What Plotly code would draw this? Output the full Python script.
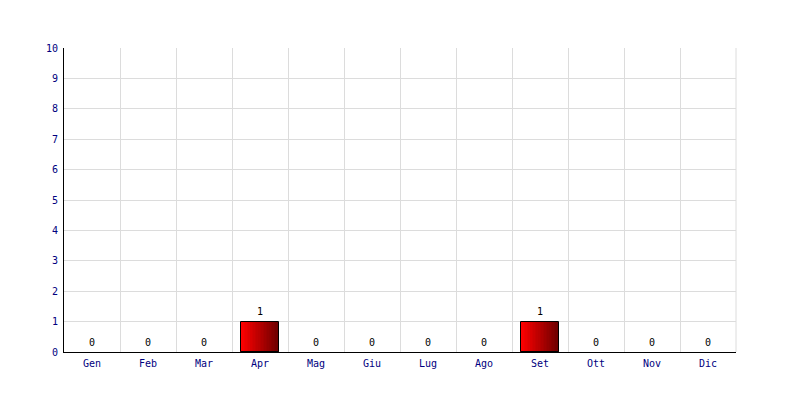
import plotly.graph_objects as go

months = ["Gen", "Feb", "Mar", "Apr", "Mag", "Giu", "Lug", "Ago", "Set", "Ott", "Nov", "Dic"]
values = [0, 0, 0, 1, 0, 0, 0, 0, 1, 0, 0, 0]

BAR_W = 0.68
N = 24
c0 = (255, 0, 0)
c1 = (110, 0, 0)

fig = go.Figure()
w = BAR_W / N
for i in range(N):
    t = i / (N - 1)
    col = tuple(round(a + (b - a) * t) for a, b in zip(c0, c1))
    fig.add_trace(go.Bar(
        x=months, y=values, width=w * 1.15, offset=-BAR_W / 2 + i * w,
        marker=dict(color="rgb(%d,%d,%d)" % col, line=dict(width=0)),
        showlegend=False, hoverinfo="skip"))

fig.add_trace(go.Bar(
    x=months, y=values, width=BAR_W, offset=-BAR_W / 2,
    marker=dict(color="rgba(0,0,0,0)",
                line=dict(color="black", width=[1 if v > 0 else 0 for v in values])),
    showlegend=False))

for m, v in zip(months, values):
    fig.add_annotation(x=m, y=v, text=str(v), showarrow=False, yanchor="middle",
                       yshift=10, font=dict(family="DejaVu Sans Mono", size=10, color="black"))

fig.update_layout(
    width=784, height=384,
    margin=dict(l=56, r=56, t=40, b=40),
    paper_bgcolor="white", plot_bgcolor="white",
    barmode="overlay", bargap=0,
    font=dict(family="DejaVu Sans Mono", size=10, color="#000080"),
)
fig.update_xaxes(
    type="category", tickson="boundaries", showgrid=True, gridcolor="#dcdcdc",
    gridwidth=1, showline=True, linecolor="black", linewidth=1, ticks="",
    range=[-0.5, 11.5], tickfont=dict(color="#000080", size=10), zeroline=False,
    ticklabelstandoff=2,
)
fig.update_yaxes(
    range=[0, 10], dtick=1, showgrid=True, gridcolor="#dcdcdc", gridwidth=1,
    showline=True, linecolor="black", linewidth=1, ticks="", zeroline=False,
    tickfont=dict(color="#000080", size=10), ticklabelstandoff=3,
)
fig.add_shape(type="line", xref="paper", yref="paper", x0=1, x1=1, y0=0, y1=1,
              line=dict(color="#dcdcdc", width=1), layer="below")

fig.write_html("out.html")
